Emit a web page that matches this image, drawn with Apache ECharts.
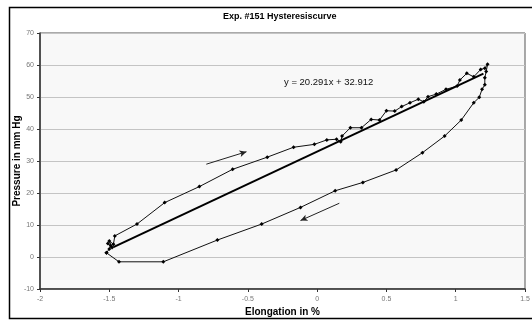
<!DOCTYPE html>
<html><head><meta charset="utf-8">
<script src="https://cdn.jsdelivr.net/npm/echarts@6/dist/echarts.min.js"></script>
<style>html,body{margin:0;padding:0;background:#fff}#c{width:532px;height:321px}</style>
</head><body><div id="c"></div>
<script>
// Hysteresis loop: elongation (%) and pressure (mm Hg), in measurement order
var elongation = [-1.52,-1.50,-1.49,-1.51,-1.48,-1.50,-1.47,-1.46,-1.30,-1.10,-0.85,-0.61,-0.36,-0.17,-0.02,0.07,0.14,0.17,0.18,0.24,0.32,0.39,0.45,0.50,0.56,0.61,0.67,0.73,0.77,0.80,0.86,0.93,1.01,1.03,1.08,1.13,1.18,1.21,1.23,1.22,1.21,1.21,1.19,1.17,1.13,1.04,0.92,0.76,0.57,0.33,0.13,-0.12,-0.40,-0.72,-1.11,-1.43,-1.52];
var pressure   = [1.3,2.5,3.5,4.2,3.0,5.0,4.0,6.6,10.3,17.0,22.0,27.4,31.2,34.3,35.2,36.6,36.8,36.0,37.8,40.4,40.4,43.0,42.8,45.7,45.6,47.0,48.2,49.3,48.5,50.1,50.9,52.4,53.4,55.3,57.4,56.3,58.6,59.0,60.2,58.0,56.0,53.8,52.4,49.9,48.2,42.8,37.8,32.6,27.2,23.3,20.7,15.5,10.3,5.3,-1.5,-1.5,1.3];
// Linear trendline endpoints (y = 20.291x + 32.912)
var trendX = [-1.47, 1.20];
var trendY = [3.1, 57.3];
var trendLabel = 'y = 20.291x + 32.912';
// Direction arrows [x0,y0,x1,y1]
var arrowUp = [-0.80, 29.0, -0.51, 32.9];
var arrowDown = [0.16, 16.8, -0.12, 11.4];
var xTicks = [-2,-1.5,-1,-0.5,0,0.5,1,1.5];
var yTicks = [-10,0,10,20,30,40,50,60,70];

var loop = elongation.map(function(x,i){return [x, pressure[i]];});
var trend = trendX.map(function(x,i){return [x, trendY[i]];});

var chart = echarts.init(document.getElementById('c'), null, {renderer:'canvas'});
var fam = '"Liberation Sans", Arial, sans-serif';
chart.setOption({
  animation:false,
  backgroundColor:'#fff',
  title:{text:'Exp. #151 Hysteresiscurve', left:218, top:7,
    textStyle:{fontFamily:fam, fontSize:9, fontWeight:'bold', color:'#000'}},
  grid:{left:40, right:7, top:33, bottom:32, outerBoundsMode:'none', containLabel:false, show:true, backgroundColor:'#f8f8f8', borderColor:'#555', borderWidth:1},
  xAxis:{type:'value', min:xTicks[0], max:xTicks[xTicks.length-1], interval:0.5,
    name:'Elongation in %', nameLocation:'middle', nameGap:18, nameMoveOverlap:false,
    nameTextStyle:{fontFamily:fam, fontSize:10, fontWeight:'bold', color:'#000'},
    axisLine:{onZero:false, lineStyle:{color:'#333', width:1.5}},
    axisTick:{show:true, inside:false, length:3, lineStyle:{color:'#333'}},
    axisLabel:{fontFamily:fam, fontSize:7, color:'#777', margin:7},
    splitLine:{show:false}},
  yAxis:{type:'value', min:yTicks[0], max:yTicks[yTicks.length-1], interval:10,
    name:'Pressure in mm Hg', nameLocation:'middle', nameGap:18, nameMoveOverlap:false,
    nameTextStyle:{fontFamily:fam, fontSize:10, fontWeight:'bold', color:'#000'},
    axisLine:{show:true, onZero:false, lineStyle:{color:'#333', width:1.5}},
    axisTick:{show:true, length:3, lineStyle:{color:'#333'}},
    axisLabel:{fontFamily:fam, fontSize:7, color:'#777', margin:6},
    splitLine:{show:true, lineStyle:{color:'#c4c4c4', width:1}}},
  graphic:[
    {type:'rect', shape:{x:9.5, y:7.5, width:530, height:311}, style:{fill:null, stroke:'#000', lineWidth:1.5}, silent:true},
    {type:'text', x:284, y:82, style:{text:trendLabel, font:'9.5px '+fam, fill:'#111', textVerticalAlign:'middle'}}
  ],
  series:[
    {type:'line', data:loop, symbol:'diamond', symbolSize:4, showSymbol:true,
      lineStyle:{color:'#111', width:1}, itemStyle:{color:'#000'}, z:3,
      markLine:{silent:true, symbol:['none','arrow'], symbolSize:[5,7], label:{show:false},
        lineStyle:{color:'#222', width:1, type:'solid'},
        data:[
          [{coord:[arrowUp[0],arrowUp[1]]},{coord:[arrowUp[2],arrowUp[3]]}],
          [{coord:[arrowDown[0],arrowDown[1]]},{coord:[arrowDown[2],arrowDown[3]]}]
        ]}},
    {type:'line', data:trend, symbol:'none', lineStyle:{color:'#000', width:2}, z:4}
  ]
});
</script></body></html>
